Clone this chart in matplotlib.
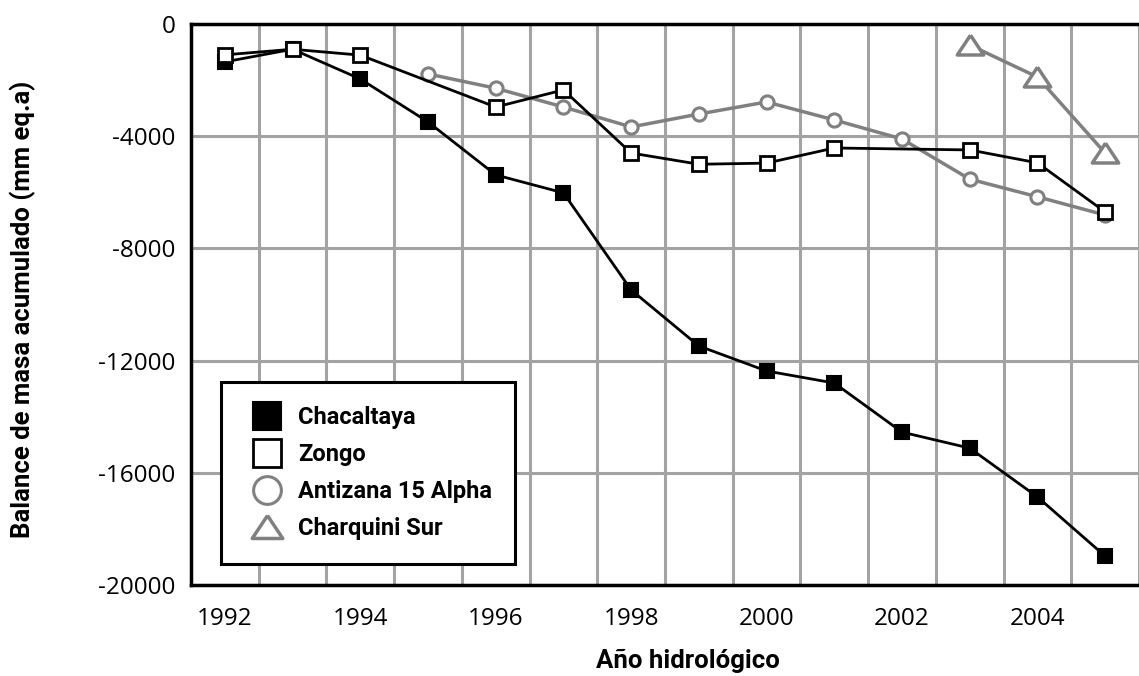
import matplotlib
matplotlib.use("Agg")
import matplotlib.pyplot as plt
from matplotlib.lines import Line2D
import numpy as np

plt.rcParams['font.family'] = ['Open Sans', 'DejaVu Sans']
BOLD_FONT = ['Roboto', 'DejaVu Sans']

# Hydrological years
years = [1992, 1993, 1994, 1995, 1996, 1997, 1998, 1999, 2000, 2001, 2002, 2003, 2004, 2005]

# Cumulative mass balance (mm w.e.) per glacier
chacaltaya_years = [1992, 1993, 1994, 1995, 1996, 1997, 1998, 1999, 2000, 2001, 2002, 2003, 2004, 2005]
chacaltaya = [-1350, -900, -1960, -3490, -5380, -6020, -9480, -11480, -12370, -12800, -14550, -15120, -16860, -18970]

zongo_years = [1992, 1993, 1994, 1996, 1997, 1998, 1999, 2000, 2001, 2003, 2004, 2005]
zongo = [-1100, -900, -1110, -2960, -2350, -4600, -5000, -4960, -4420, -4490, -4950, -6700]

antizana_years = [1995, 1996, 1997, 1998, 1999, 2000, 2001, 2002, 2003, 2004, 2005]
antizana = [-1780, -2290, -2960, -3670, -3210, -2780, -3420, -4100, -5530, -6160, -6810]

charquini_years = [2003, 2004, 2005]
charquini = [-750, -1890, -4600]

series_names = ["Chacaltaya", "Zongo", "Antizana 15 Alpha", "Charquini Sur"]
year_labels = ["1992", "1994", "1996", "1998", "2000", "2002", "2004"]
y_ticks = [0, -4000, -8000, -12000, -16000, -20000]

GRAY = "#808080"
GRID = "#a3a3a3"
TRI = [(0, 0.78), (-1, -0.72), (1, -0.72), (0, 0.78)]

W, H = 1139, 676
fig = plt.figure(figsize=(W / 100, H / 100), dpi=100)
ax = fig.add_axes([191 / W, (H - 585) / H, (W - 191) / W, (585 - 24) / H])

ax.plot(antizana_years, antizana, color=GRAY, lw=2.5, marker='o', ms=9.5,
        mfc='white', mec=GRAY, mew=2.2, zorder=3)
ax.plot(charquini_years, charquini, color=GRAY, lw=2.5, marker=TRI, ms=19,
        mfc='white', mec=GRAY, mew=2.5, zorder=3)
ax.plot(chacaltaya_years, chacaltaya, color='black', lw=2, marker='s', ms=10,
        mfc='black', mec='black', mew=1.5, zorder=4)
ax.plot(zongo_years, zongo, color='black', lw=2, marker='s', ms=10,
        mfc='white', mec='black', mew=2, zorder=5)

ax.set_xlim(1991.5, 1991.5 + 948 / 68.8)
ax.set_ylim(-20000, 0)

ax.set_xticks([int(s) for s in year_labels])
ax.set_xticklabels(year_labels)
ax.set_xticks(np.arange(1992.5, 2006, 1.0), minor=True)
ax.set_yticks(y_ticks)
ax.set_yticklabels([str(v) for v in y_ticks])

ax.tick_params(axis='both', which='both', length=0, labelsize=17.5, colors='black')
ax.tick_params(axis='x', pad=16)
ax.tick_params(axis='y', pad=11)

ax.grid(True, axis='x', which='minor', color=GRID, lw=2.2)
ax.grid(True, axis='y', which='major', color=GRID, lw=2.2)
ax.grid(False, axis='x', which='major')
ax.set_axisbelow(True)

for side in ['left', 'top', 'bottom']:
    ax.spines[side].set_linewidth(2.5)
    ax.spines[side].set_color('black')
ax.spines['right'].set_visible(False)

fig.text(23 / W, 1 - 309 / H, "Balance de masa acumulado (mm eq.a)", rotation=90,
         ha='center', va='center', fontsize=18.5, fontweight='bold', family=BOLD_FONT)
fig.text(688 / W, 1 - 661 / H, "Año hidrológico", ha='center', va='center',
         fontsize=18.5, fontweight='bold', family=BOLD_FONT)

handles = [
    Line2D([], [], ls='none', marker='s', ms=20, mfc='black', mec='black', mew=1.5),
    Line2D([], [], ls='none', marker='s', ms=20, mfc='white', mec='black', mew=2),
    Line2D([], [], ls='none', marker='o', ms=20, mfc='white', mec=GRAY, mew=2.2),
    Line2D([], [], ls='none', marker=TRI, ms=22, mfc='white', mec=GRAY, mew=2.5),
]
leg = ax.legend(handles, series_names, loc='lower left',
                bbox_to_anchor=(30 / 948, 21 / 561), borderaxespad=0,
                frameon=True, fancybox=False, framealpha=1, edgecolor='black',
                prop={'weight': 'bold', 'size': 17, 'family': BOLD_FONT},
                handlelength=1.9, handletextpad=0.35, labelspacing=0.6,
                borderpad=1.0)
leg.get_frame().set_linewidth(2.2)

fig.savefig("out.png", dpi=100)
